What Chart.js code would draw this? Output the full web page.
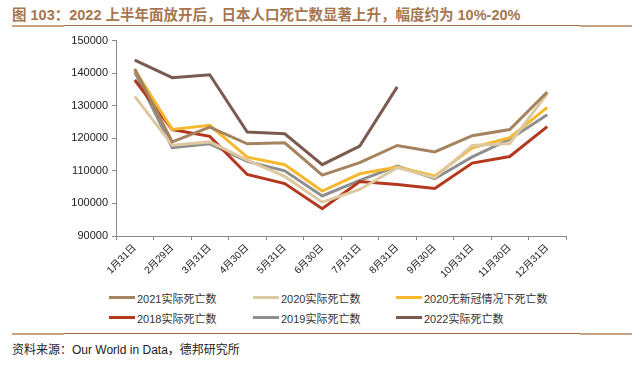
<!DOCTYPE html>
<html>
<head>
<meta charset="utf-8">
<script src="https://cdn.jsdelivr.net/npm/chart.js@4"></script>
<style>
  body { margin: 0; width: 643px; height: 365px; background: #fff; position: relative; overflow: hidden;
         font-family: 'Liberation Sans', Arial, 'Noto Sans CJK SC', sans-serif; }
  .title { position: absolute; left: 12px; top: 3px; font-size: 14.5px; font-weight: bold; color: #a5764f; white-space: nowrap; }
  .rule { position: absolute; left: 12px; width: 620px; height: 1px; background: #9c6c4a; }
  .rule .end { position: absolute; top: 0; width: 52px; height: 2px; background: #c9a487; }
  .chart-wrap { position: absolute; left: 0; top: 30px; width: 643px; height: 252px; }
  .legend { position: absolute; top: 290px; left: 109px; display: grid;
            grid-template-columns: 144px 143px 200px; row-gap: 5px; font-size: 11px; color: #333; }
  .legend-item { display: flex; align-items: center; height: 15px; white-space: nowrap; }
  .legend-color { width: 26px; height: 3px; margin-right: 2px; }
  .source { position: absolute; left: 12px; top: 340px; font-size: 12px; color: #222; white-space: nowrap; }
</style>
</head>
<body>
<div class="title">图 103：2022 上半年面放开后，日本人口死亡数显著上升，幅度约为 10%-20%</div>
<div class="rule" style="top:25px"><div class="end" style="left:0"></div><div class="end" style="right:0"></div></div>
<div class="chart-wrap"><canvas id="chart"></canvas></div>
<div class="legend" id="legend"></div>
<div class="rule" style="top:333px"><div class="end" style="left:0"></div><div class="end" style="right:0"></div></div>
<div class="source">资料来源：Our World in Data，德邦研究所</div>
<script>
const months = ['1月31日', '2月29日', '3月31日', '4月30日', '5月31日', '6月30日',
                '7月31日', '8月31日', '9月30日', '10月31日', '11月30日', '12月31日'];

const deaths2021 = [141300, 118900, 123400, 118300, 118600, 108700, 112500, 117800, 115800, 120800, 122700, 134200];
const deaths2020 = [132900, 117900, 118900, 113300, 108300, 100400, 104300, 111000, 107900, 117800, 118400, 133700];
const deaths2020NoCovid = [141000, 122700, 124000, 114200, 111900, 103800, 109100, 111200, 108400, 117100, 120200, 129500];
const deaths2018 = [137900, 122700, 120600, 108900, 106100, 98400, 106700, 105800, 104600, 112400, 114400, 123600];
const deaths2019 = [140300, 117100, 118300, 112900, 110000, 102300, 107100, 111500, 107600, 114300, 119700, 127200];
const deaths2022 = [144000, 138600, 139500, 121900, 121400, 111900, 117600, 135800, null, null, null, null];

const yTicks = [90000, 100000, 110000, 120000, 130000, 140000, 150000];

const series = [
  { label: '2021实际死亡数', data: deaths2021, color: '#a5835f' },
  { label: '2020实际死亡数', data: deaths2020, color: '#dcc9a2' },
  { label: '2020无新冠情况下死亡数', data: deaths2020NoCovid, color: '#f6b82e' },
  { label: '2018实际死亡数', data: deaths2018, color: '#b4381d' },
  { label: '2019实际死亡数', data: deaths2019, color: '#8e8e8e' },
  { label: '2022实际死亡数', data: deaths2022, color: '#7b5b4f' },
];

document.getElementById('legend').innerHTML = series.map(s =>
  `<div class="legend-item"><div class="legend-color" style="background:${s.color}"></div>${s.label}</div>`
).join('');

const FONT = "'Liberation Sans', Arial, 'Noto Sans CJK SC', sans-serif";

new Chart(document.getElementById('chart'), {
  type: 'line',
  data: {
    labels: months,
    datasets: series.map(s => ({
      label: s.label,
      data: s.data,
      borderColor: s.color,
      backgroundColor: s.color,
      borderWidth: 3,
      pointRadius: 0,
      tension: 0,
      fill: false,
      spanGaps: false,
    })),
  },
  options: {
    responsive: true,
    maintainAspectRatio: false,
    animation: false,
    layout: { padding: { top: 10, right: 77, left: 0, bottom: 0 } },
    plugins: { legend: { display: false }, tooltip: { enabled: false } },
    scales: {
      x: {
        offset: true,
        grid: { offset: true, drawOnChartArea: false, drawTicks: true, tickLength: 4, color: '#888' },
        border: { color: '#888', width: 1 },
        ticks: { color: '#222', font: { family: FONT, size: 10 }, minRotation: 45, maxRotation: 45, padding: 2, autoSkip: false },
        afterFit: s => { s.height = 46; },
      },
      y: {
        min: 90000,
        max: 150000,
        afterBuildTicks: s => { s.ticks = yTicks.map(v => ({ value: v })); },
        grid: { drawOnChartArea: false, drawTicks: true, tickLength: 4, color: '#888' },
        border: { color: '#888', width: 1 },
        ticks: { color: '#222', font: { family: FONT, size: 11 }, padding: 4, callback: v => String(v) },
        afterFit: s => { s.width = 116; },
      },
    },
  },
});
</script>
</body>
</html>
